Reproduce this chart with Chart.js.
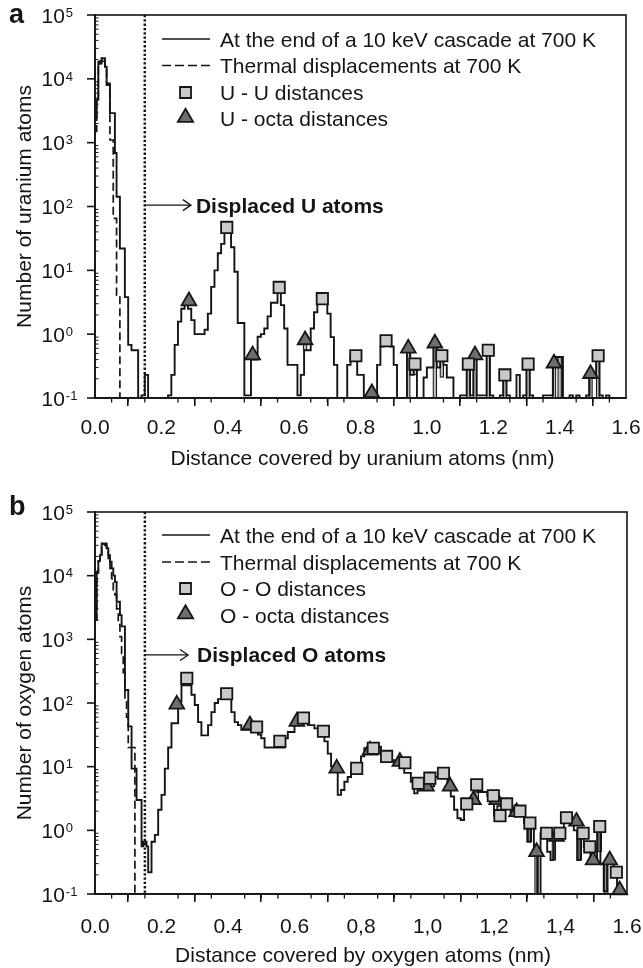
<!DOCTYPE html>
<html><head><meta charset="utf-8">
<script src="https://cdn.jsdelivr.net/npm/chart.js@4/dist/chart.umd.min.js"></script>
<style>
html,body{margin:0;padding:0;background:#fff;}
#wrap{position:relative;width:643px;height:968px;overflow:hidden;}
canvas{position:absolute;left:0;}
#ca{top:0;} #cb{top:484px;}
</style></head><body>
<div id="wrap"><canvas id="ca" width="643" height="484"></canvas><canvas id="cb" width="643" height="484"></canvas></div>
<script>
// ---------------- DATA ----------------
const FINE_BIN = 0.005;      // bin width of the near-origin peak (0 - 0.16 nm)
const FINE_END = 0.16;
const COARSE_BIN = 0.01;     // bin width beyond 0.16 nm
const X_MAX = 1.6;
const DISPLACEMENT_THRESHOLD = 0.15;

const xTickLabelsA = ['0.0','0.2','0.4','0.6','0.8','1.0','1.2','1.4','1.6'];
const xTickLabelsB = ['0.0','0.2','0.4','0.6','0,8','1,0','1,2','1,4','1.6'];
const yTickExponents = [-1,0,1,2,3,4,5];

const legendLabelsA = ['At the end of a 10 keV cascade at 700 K','Thermal displacements at 700 K','U - U distances','U - octa distances'];
const legendLabelsB = ['At the end of a 10 keV cascade at 700 K','Thermal displacements at 700 K','O - O distances','O - octa distances'];

// ---- panel a : uranium ----
const uCascadeFine = [2450,4700,18600,17400,21000,21000,15500,8000,8000,2900,2900,2900,690,142,142,22,
  22,22,3.8,3.8,0.68,0.68,0.56,0.56,0.56,0.56,0.1,0.1,0.11,0.11,0.23,0.23];
const uCascadeTail = [
  0.1,0.1,0.1,0.1,0.1,0.1,0.11,0.23,0.68,1.57,
  2.5,2.9,2.5,1.66,1.0,1.0,1.0,1.17,2.1,5.5,
  10,18.5,26,40,40,23,9.5,1.5,1.5,0.11,
  0.11,0.4,0.4,0.91,1.0,1.23,1.9,3.1,3.1,4.6,
  2.85,1.23,0.33,0.33,0.33,0.11,0.23,0.56,0.56,1.23,
  2.2,3.0,3.0,3.0,2.1,0.9,0.33,0.1,0.1,0.1,
  0.33,0.46,0.46,0.23,0.23,0.1,0.1,0.1,0.1,0.33,
  0.64,0.79,0.79,0.64,0.33,0.1,0.1,0.1,0.6,0.23,
  0.34,0.1,0.1,0.21,0.3,0.3,0.72,0.3,0.46,0.33,
  0.21,0.21,0.1,0.1,0.11,0.11,0.34,0.11,0.47,0.11,
  0.11,0.11,0.56,0.11,0.1,0.1,0.11,0.23,0.11,0.1,
  0.1,0.23,0.1,0.11,0.34,0.11,0.1,0.1,0.1,0.11,
  0.11,0.11,0.35,0.44,0.44,0.1,0.1,0.11,0.1,0.11,
  0.1,0.1,0.11,0.24,0.24,0.46,0.11,0.1,0.11,0.1,
  0.1,0.1,0.1,0.1];
const uThermalFine = [1500,5000,15000,19000,21000,19000,14000,8500,8500,1100,1100,65,65,4.1,4.1,0.1];
const uUUx = [0.397,0.555,0.685,0.786,0.877,0.964,1.045,1.125,1.185,1.235,1.305,1.516];
const uUUy = [47,5.4,3.6,0.46,0.79,0.34,0.46,0.34,0.56,0.23,0.34,0.46];
const uOctaX = [0.283,0.475,0.633,0.834,0.944,1.024,1.145,1.383,1.493];
const uOctaY = [3.3,0.47,0.81,0.12,0.6,0.72,0.47,0.35,0.24];
const uStemX  = [0.475,0.633,0.944,0.964,1.024,1.045,1.125,1.145,1.185,1.235,1.305,1.383,1.40,1.493,1.516];
const uStemLo = [0.4,0.56,0.1,0.23,0.1,0.21,0.1,0.1,0.1,0.1,0.1,0.1,0.1,0.1,0.1];
const uStemHi = [0.47,0.81,0.6,0.34,0.72,0.46,0.34,0.47,0.56,0.23,0.34,0.35,0.44,0.24,0.46];

// ---- panel b : oxygen ----
const oCascadeFine = [2000,11500,17000,21000,32000,32000,32000,27000,21000,16500,13000,10000,8000,3900,3900,2400,
  1600,1600,160,160,43,43,9.3,9.3,9.3,3.0,3.0,3.0,0.56,0.66,0.66,0.56];
const oCascadeTail = [
  0.22,0.66,0.85,2.1,3.6,9.3,20,48,48,105,
  190,190,190,135,93,50,31,31,45,72,
  100,115,115,115,115,72,50,45,38,38,
  38,38,38,32,28,20,20,20,20,20,
  20,28,35,35,58,58,58,58,45,45,
  40,40,40,25,16,10,10,3.6,4.3,5.8,
  6.9,8.4,8.4,8.4,14.5,19.5,20.5,20.5,20.5,20.5,
  15,15,12.6,12.6,11.2,11.2,11.2,8,8,5.8,
  3.8,4.9,4.9,4.9,4.9,4.9,6.9,6.9,6.9,6.9,
  4.9,3.4,2.1,1.55,1.45,2.4,2.4,3.0,5.2,4,
  4,4,3.5,3.0,1.7,2.4,2.4,2.6,2.2,1.9,
  1.9,1.9,1.9,1.3,0.66,1.3,0.46,0.1,0.9,0.9,
  0.46,0.34,0.8,0.8,0.8,1.58,1.3,1.38,1.0,0.34,
  0.9,0.55,0.5,0.34,0.34,1.15,0.3,0.11,0.34,0.3,
  0.22,0.12,0.1,0.1];
const oThermalFine = [2000,11000,17000,22000,30000,31000,30000,24000,18000,13000,9000,6000,5000,3000,1700,1100,
  600,300,120,60,20,20,20,20,0.1];
const oOOx = [0.276,0.396,0.486,0.556,0.627,0.687,0.787,0.837,0.877,0.932,0.972,1.007,1.048,1.118,1.148,1.198,1.218,1.238,1.278,1.308,1.358,1.398,1.418,1.468,1.488,1.518,1.568];
const oOOy = [245,140,42,25,58,36,9.4,19.5,14.5,11.5,5.5,6.6,7.9,2.6,5.2,3.5,1.7,2.6,2.0,1.3,0.9,0.9,1.58,0.9,0.55,1.15,0.22];
const oOctaX = [0.246,0.466,0.607,0.727,0.827,0.917,0.997,1.068,1.138,1.208,1.268,1.328,1.388,1.448,1.498,1.548,1.578];
const oOctaY = [95,45,51,9.4,18,12,4.9,4.9,3.0,3.0,1.95,0.46,0.8,1.38,0.34,0.34,0.115];
const oStemX  = [1.148,1.308,1.328,1.38,1.458,1.518,1.538];
const oStemLo = [3.0,0.66,0.1,0.34,0.34,0.46,0.1];
const oStemHi = [5.2,1.3,0.46,0.9,0.9,1.15,0.34];

// ---------------- STYLE / LAYOUT ----------------
const FONT = "'Liberation Sans', Arial, Helvetica, sans-serif";
const FS = 21;
const INK = '#151515';
const SQ_FILL = '#c9c9c9';
const TRI_FILL = '#6e6e6e';

const panels = [
  {id:'ca', letter:'a', xLabels:xTickLabelsA, legend:legendLabelsA,
   yTitle:'Number of uranium atoms', xTitle:'Distance covered by uranium atoms (nm)',
   annot:'Displaced U atoms',
   cascadeFine:uCascadeFine, cascadeTail:uCascadeTail, thermal:uThermalFine,
   sqX:uUUx, sqY:uUUy, triX:uOctaX, triY:uOctaY, stemX:uStemX, stemLo:uStemLo, stemHi:uStemHi,
   g:{top:15, bottom:398, right:626, tickPad:10, xTitleOff:66.7, letterBase:23,
      rows:[39,65.5,92.5,118.5], arrowY:105, arrowEnd:0.289, textX:0.304}},
  {id:'cb', letter:'b', xLabels:xTickLabelsB, legend:legendLabelsB,
   yTitle:'Number of oxygen atoms', xTitle:'Distance covered by oxygen atoms (nm)',
   annot:'Displaced O atoms',
   cascadeFine:oCascadeFine, cascadeTail:oCascadeTail, thermal:oThermalFine,
   sqX:oOOx, sqY:oOOy, triX:oOctaX, triY:oOctaY, stemX:oStemX, stemLo:oStemLo, stemHi:oStemHi,
   g:{top:28, bottom:410, right:627, tickPad:12.5, xTitleOff:68, letterBase:31,
      rows:[51,78,104.5,131], arrowY:568, arrowEnd:0.28, textX:0.307}}
];

function drawSquare(ctx, x, y, s){
  ctx.beginPath(); ctx.rect(x - s/2, y - s/2, s, s);
  ctx.fillStyle = SQ_FILL; ctx.fill(); ctx.lineWidth = 1.8; ctx.strokeStyle = INK; ctx.stroke();
}
function drawTri(ctx, x, y, r){
  ctx.beginPath();
  ctx.moveTo(x, y - r);
  ctx.lineTo(x + r*0.866, y + r*0.5);
  ctx.lineTo(x - r*0.866, y + r*0.5);
  ctx.closePath();
  ctx.fillStyle = TRI_FILL; ctx.fill(); ctx.lineWidth = 1.8; ctx.strokeStyle = INK; ctx.stroke();
}

function makeDecor(P){
  return {
    id:'decor_' + P.id,
    afterDraw(chart){
      const {ctx, chartArea:ca, scales:{x, y}} = chart;
      const g = P.g;
      ctx.save();
      ctx.strokeStyle = INK; ctx.fillStyle = INK;
      // frame
      ctx.lineWidth = 1.6;
      ctx.strokeRect(ca.left, ca.top, ca.right - ca.left, ca.bottom - ca.top);
      // x minor ticks
      ctx.lineWidth = 1.3;
      for (let i = 1; i < 32; i++) {
        if (i % 4 === 0) continue;
        const px = x.getPixelForValue(i * 0.05);
        ctx.beginPath(); ctx.moveTo(px, ca.bottom); ctx.lineTo(px, ca.bottom + 4.5); ctx.stroke();
      }
      // y ticks (major outward, minor inward) and labels 10^n
      yTickExponents.forEach(e => {
        const py = y.getPixelForValue(Math.pow(10, e));
        ctx.lineWidth = 1.6;
        ctx.beginPath(); ctx.moveTo(ca.left - 8, py); ctx.lineTo(ca.left, py); ctx.stroke();
        if (e < 5) {
          ctx.lineWidth = 1;
          for (let m = 2; m <= 9; m++) {
            const pm = y.getPixelForValue(m * Math.pow(10, e));
            ctx.beginPath(); ctx.moveTo(ca.left, pm); ctx.lineTo(ca.left + 3.5, pm); ctx.stroke();
          }
        }
        const cap = 0.716 * FS;
        const base = py + cap / 2;
        ctx.font = FS + 'px ' + FONT;
        ctx.textAlign = 'left'; ctx.textBaseline = 'alphabetic';
        ctx.fillText('10', 41.5, base);
        const w = ctx.measureText('10').width;
        const es = 13;
        ctx.font = es + 'px ' + FONT;
        ctx.fillText(String(e), 41.5 + w + 1, base - cap + 0.716 * es);
      });
      // axis titles
      ctx.font = FS + 'px ' + FONT;
      ctx.textAlign = 'center'; ctx.textBaseline = 'alphabetic';
      ctx.fillText(P.xTitle, (ca.left + ca.right) / 2 + 2, ca.bottom + g.xTitleOff);
      ctx.save();
      ctx.translate(25, (ca.top + ca.bottom) / 2);
      ctx.rotate(-Math.PI / 2);
      ctx.textBaseline = 'middle';
      ctx.fillText(P.yTitle, 0, 0);
      ctx.restore();
      // panel letter
      ctx.font = 'bold 27px ' + FONT;
      ctx.textAlign = 'left'; ctx.textBaseline = 'alphabetic';
      ctx.fillText(P.letter, 9, g.letterBase);
      // legend
      const lx0 = 162, lx1 = 210, tx = 220, mx = 185.5;
      ctx.font = FS + 'px ' + FONT;
      ctx.lineWidth = 1.7;
      ctx.beginPath(); ctx.moveTo(lx0, g.rows[0]); ctx.lineTo(lx1, g.rows[0]); ctx.stroke();
      ctx.setLineDash([9, 4]);
      ctx.beginPath(); ctx.moveTo(lx0, g.rows[1]); ctx.lineTo(lx1, g.rows[1]); ctx.stroke();
      ctx.setLineDash([]);
      drawSquare(ctx, mx, g.rows[2], 11);
      drawTri(ctx, mx, g.rows[3] - 1, 8.8);
      ctx.fillStyle = INK;
      P.legend.forEach((t, i) => ctx.fillText(t, tx, g.rows[i] + 7.5));
      // annotation arrow + text
      const ay = y.getPixelForValue(g.arrowY);
      const ax0 = x.getPixelForValue(DISPLACEMENT_THRESHOLD);
      const ax1 = x.getPixelForValue(g.arrowEnd);
      ctx.lineWidth = 1.3; ctx.strokeStyle = INK;
      ctx.beginPath(); ctx.moveTo(ax0, ay); ctx.lineTo(ax1, ay); ctx.stroke();
      ctx.beginPath(); ctx.moveTo(ax1 - 8, ay - 5.5); ctx.lineTo(ax1, ay); ctx.lineTo(ax1 - 8, ay + 5.5); ctx.stroke();
      ctx.font = 'bold ' + FS + 'px ' + FONT;
      ctx.fillText(P.annot, x.getPixelForValue(g.textX), ay + 7.5);
      ctx.restore();
    }
  };
}

function buildPanel(P){
  const hist = [];
  P.cascadeFine.forEach((v, i) => hist.push({x: i * FINE_BIN, y: v}));
  P.cascadeTail.forEach((v, i) => hist.push({x: FINE_END + i * COARSE_BIN, y: v}));
  hist.push({x: X_MAX, y: P.cascadeTail[P.cascadeTail.length - 1]});
  const therm = P.thermal.map((v, i) => ({x: i * FINE_BIN, y: v}));
  const sq = P.sqX.map((x, i) => ({x, y: P.sqY[i]}));
  const tri = P.triX.map((x, i) => ({x, y: P.triY[i]}));
  const stems = P.stemX.map((x, i) => ({x, y: [P.stemLo[i], P.stemHi[i]]}));
  const dotted = [{x: DISPLACEMENT_THRESHOLD, y: 1e5}, {x: DISPLACEMENT_THRESHOLD, y: 0.1}];
  const g = P.g;
  const H = 484;
  new Chart(document.getElementById(P.id), {
    type: 'line',
    data: {datasets: [
      {type:'line', label:'pair', data: sq, showLine:false, pointStyle:'rect', pointRadius:8,
       pointBackgroundColor:SQ_FILL, pointBorderColor:INK, pointBorderWidth:1.8, order:0, clip:false},
      {type:'line', label:'octa', data: tri, showLine:false, pointStyle:'triangle', pointRadius:8.5,
       pointBackgroundColor:TRI_FILL, pointBorderColor:INK, pointBorderWidth:1.8, order:0, clip:false},
      {type:'line', label:'cascade', data: hist, stepped:true, borderColor:INK, borderWidth:1.9,
       pointRadius:0, fill:false, order:1},
      {type:'line', label:'thermal', data: therm, stepped:true, borderColor:INK, borderWidth:1.7,
       borderDash:[8,4], pointRadius:0, fill:false, order:2},
      {type:'bar', label:'stems', data: stems, backgroundColor:'#bcbcbc', borderColor:INK, borderWidth:1.2,
       borderSkipped:false, barThickness:4, grouped:false, order:3},
      {type:'line', label:'threshold', data: dotted, borderColor:INK, borderWidth:2.5, borderDash:[2.3,2.0],
       borderCapStyle:'butt', pointRadius:0, fill:false, order:4}
    ]},
    options: {
      responsive:false, animation:false, devicePixelRatio:1,
      layout:{padding:{left:0, right:643 - g.right, top:g.top, bottom:0}},
      plugins:{legend:{display:false}, tooltip:{enabled:false}},
      scales:{
        x:{type:'linear', min:0, max:X_MAX, offset:false,
           afterFit:s => { s.height = H - g.bottom; s.paddingLeft = 0; s.paddingRight = 0; },
           ticks:{stepSize:0.2, padding:g.tickPad, color:INK, maxRotation:0, autoSkip:false,
                  font:{family:FONT, size:FS},
                  callback:v => P.xLabels[Math.round(v / 0.2)]},
           grid:{display:true, drawOnChartArea:false, drawTicks:true, tickLength:8, color:INK, lineWidth:1.6},
           border:{display:true, color:INK, width:1.8}},
        y:{type:'logarithmic', min:0.1, max:1e5,
           afterFit:s => { s.width = 95; },
           ticks:{display:false},
           grid:{display:false, drawTicks:false},
           border:{display:true, color:INK, width:1.8}}
      }
    },
    plugins:[makeDecor(P)]
  });
}
panels.forEach(buildPanel);
</script>
</body></html>
